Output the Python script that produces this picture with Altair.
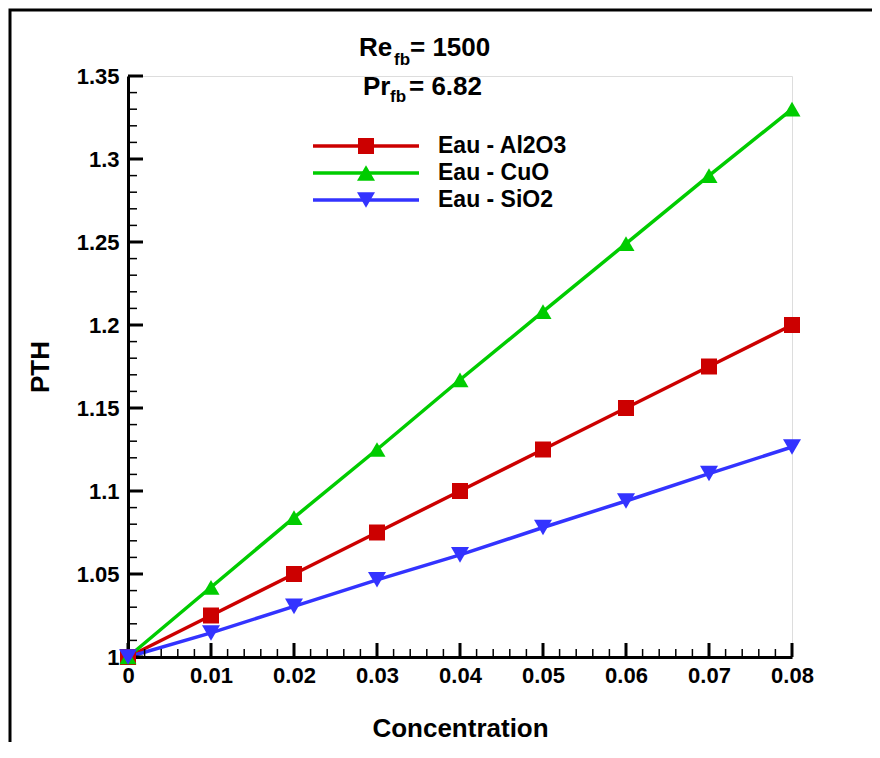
import altair as alt
import pandas as pd

# ---------------- data ----------------
conc = [0.0, 0.01, 0.02, 0.03, 0.04, 0.05, 0.06, 0.07, 0.08]
al2o3 = [1.0, 1.025, 1.05, 1.075, 1.1, 1.125, 1.15, 1.175, 1.2]
cuo = [1.0, 1.042, 1.084, 1.125, 1.167, 1.208, 1.249, 1.29, 1.33]
sio2 = [1.0, 1.0145, 1.0305, 1.0465, 1.0615, 1.078, 1.094, 1.1105, 1.1265]

series_names = ["Eau - Al2O3", "Eau - CuO", "Eau - SiO2"]
series_colors = ["#CC0000", "#00CC00", "#3333FF"]
series_shapes = ["square", "triangle-up", "triangle-down"]
series_sizes = [256, 324, 324]

x_major = [0.0, 0.01, 0.02, 0.03, 0.04, 0.05, 0.06, 0.07, 0.08]
x_minor = [round(i * 0.002, 3) for i in range(41) if i % 5]
y_major = [1.0, 1.05, 1.1, 1.15, 1.2, 1.25, 1.3, 1.35]
y_minor = [round(1 + i * 0.01, 2) for i in range(36) if i % 5]

FONT = "Liberation Sans"
W, H = 664, 581

rows = []
for name, vals in zip(series_names, [al2o3, cuo, sio2]):
    for c, v in zip(conc, vals):
        rows.append({"conc": c, "PTH": v, "series": name})
df = pd.DataFrame(rows)

xscale = alt.Scale(domain=[0, 0.08], nice=False, zero=False)
yscale = alt.Scale(domain=[1.0, 1.35], nice=False, zero=False)

xaxis = alt.Axis(values=x_major, format="~g", title="Concentration",
                 titleFont=FONT, titleFontSize=26, titleFontWeight="bold",
                 titleColor="black", titleBaseline="alphabetic", titleY=79,
                 labelFont=FONT, labelFontSize=22, labelFontWeight="bold",
                 labelColor="black", labelPadding=8, labelFlush=False,
                 labelOverlap=False, ticks=False, grid=False,
                 domainColor="black", domainWidth=3)
yaxis = alt.Axis(values=y_major, format="~g", title="PTH",
                 titleFont=FONT, titleFontSize=26, titleFontWeight="bold",
                 titleColor="black", titleX=-88, titleBaseline="middle",
                 labelFont=FONT, labelFontSize=22, labelFontWeight="bold",
                 labelColor="black", labelPadding=9, labelFlush=False,
                 labelOverlap=False, ticks=False, grid=False,
                 domainColor="black", domainWidth=3)

color = alt.Color("series:N", scale=alt.Scale(domain=series_names, range=series_colors), legend=None)
shape = alt.Shape("series:N", scale=alt.Scale(domain=series_names, range=series_shapes), legend=None)
size = alt.Size("series:N", scale=alt.Scale(domain=series_names, range=series_sizes), legend=None)

base = alt.Chart(df)
lines = base.mark_line(strokeWidth=3.5).encode(
    x=alt.X("conc:Q", scale=xscale, axis=xaxis),
    y=alt.Y("PTH:Q", scale=yscale, axis=yaxis),
    color=color)
points = base.mark_point(filled=True, opacity=1).encode(
    x=alt.X("conc:Q", scale=xscale, axis=xaxis),
    y=alt.Y("PTH:Q", scale=yscale, axis=yaxis),
    color=color, shape=shape, size=size)


# inward ticks on the shared scales
def xticks(vals, length, width):
    return alt.Chart(pd.DataFrame({"t": vals})).mark_tick(
        orient="vertical", size=length, thickness=width, color="black",
        yOffset=-length / 2, opacity=1
    ).encode(x=alt.X("t:Q", scale=xscale, title="Concentration"),
             y=alt.YDatum(1.0, title="PTH"))


def yticks(vals, length, width):
    return alt.Chart(pd.DataFrame({"t": vals})).mark_tick(
        orient="horizontal", size=length, thickness=width, color="black",
        xOffset=length / 2, opacity=1
    ).encode(y=alt.Y("t:Q", scale=yscale, title="PTH"),
             x=alt.XDatum(0.0, title="Concentration"))


xmin = xticks(x_minor, 8, 1.5)
xmaj = xticks(x_major, 14, 3)
ymin = yticks(y_minor, 9, 1.5)
ymaj = yticks(y_major, 15, 3)

# outer frame
frame = alt.Chart(pd.DataFrame({"a": [0]})).mark_rect(
    filled=False, stroke="black", strokeWidth=3
).encode(x=alt.value(-118), x2=alt.value(1000), y=alt.value(-66), y2=alt.value(1000))


# annotation (Re_fb, Pr_fb)
def txt(s, x, y, fs, baseline="alphabetic"):
    return alt.Chart(pd.DataFrame({"a": [0]})).mark_text(
        text=s, font=FONT, fontSize=fs, fontWeight="bold", color="black",
        align="left", baseline=baseline
    ).encode(x=alt.value(x), y=alt.value(y))


annots = [
    txt("Re", 231, -20, 26), txt("fb", 266, -11, 17), txt("= 1500", 282, -20, 26),
    txt("Pr", 235, 19, 26), txt("fb", 262, 26, 17), txt("= 6.82", 281, 19, 26),
]

# manual legend
legend_layers = []
for i, (name, col, shp, sz) in enumerate(zip(series_names, series_colors, series_shapes, series_sizes)):
    yy = 70 + 27 * i
    one = alt.Chart(pd.DataFrame({"a": [0]}))
    legend_layers.append(one.mark_rule(color=col, strokeWidth=3.5).encode(
        x=alt.value(185), x2=alt.value(291), y=alt.value(yy)))
    legend_layers.append(one.mark_point(shape=shp, size=sz, filled=True, color=col, opacity=1).encode(
        x=alt.value(238), y=alt.value(yy)))
    legend_layers.append(txt(name, 310, yy, 23, baseline="middle"))

chart = alt.layer(
    lines, frame, xmin, xmaj, ymin, ymaj, points, *annots, *legend_layers
).properties(
    width=W, height=H,
    autosize=alt.AutoSizeParams(type="none"),
    padding={"left": 120, "top": 68, "right": 80, "bottom": 85},
).configure_view(strokeOpacity=0).configure(background="white")

chart.save("out.html", embed_options={"renderer": "svg", "actions": False})
